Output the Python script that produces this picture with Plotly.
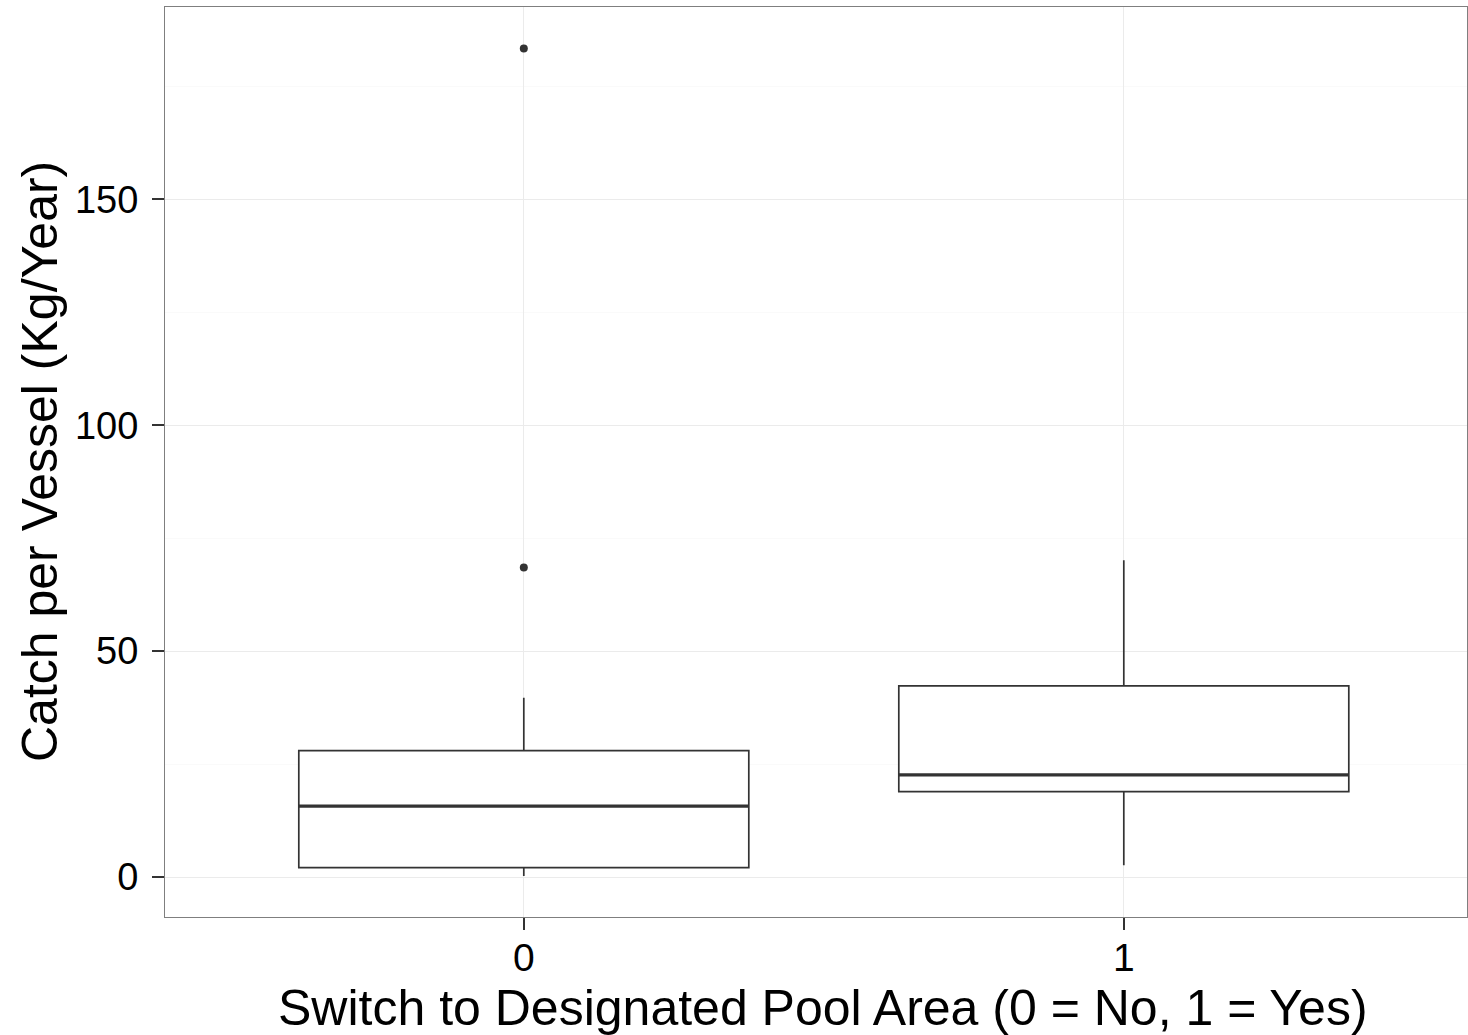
import plotly.graph_objects as go

# Data
categories = [0, 1]
tick_labels = ["0", "1"]
q1 = [2.1, 18.9]
median = [15.7, 22.6]
q3 = [28.0, 42.3]
lower_whisker = [0.2, 2.6]
upper_whisker = [39.7, 70.1]
outlier_x = [0, 0]
outlier_y = [68.5, 183.4]

box_width = 0.75
line_col = "#333333"
font_family = "Liberation Sans, Arial, sans-serif"

fig = go.Figure()
for i, c in enumerate(categories):
    fig.add_trace(go.Box(
        x=[c], q1=[q1[i]], median=[median[i]], q3=[q3[i]],
        lowerfence=[lower_whisker[i]], upperfence=[upper_whisker[i]],
        width=box_width, whiskerwidth=0,
        fillcolor="white", line=dict(color=line_col, width=1.7),
        boxpoints=False, showlegend=False,
    ))
    # thicker median line as in ggplot
    fig.add_trace(go.Scatter(
        x=[c - box_width / 2, c + box_width / 2], y=[median[i], median[i]],
        mode="lines", line=dict(color=line_col, width=3.2),
        showlegend=False, hoverinfo="skip",
    ))

fig.add_trace(go.Scatter(
    x=outlier_x, y=outlier_y, mode="markers",
    marker=dict(color=line_col, size=8),
    showlegend=False,
))

fig.update_layout(
    width=1468, height=1035,
    margin=dict(l=165, r=1, t=7, b=118),
    paper_bgcolor="white", plot_bgcolor="white",
    boxmode="overlay",
    font=dict(family=font_family, color="black"),
    xaxis=dict(
        range=[-0.598, 1.572], tickmode="array", tickvals=categories, ticktext=tick_labels,
        showgrid=True, gridcolor="#EBEBEB", gridwidth=1, zeroline=False,
        ticks="outside", ticklen=12, tickcolor="#333333", tickwidth=1.5,
        tickfont=dict(size=39, color="black", family=font_family),
        showline=True, linecolor="#7F7F7F", linewidth=1, mirror=True,
        ticklabelstandoff=-6,
    ),
    yaxis=dict(
        range=[-8.85, 192.6], tickmode="array", tickvals=[0, 50, 100, 150],
        ticktext=["0", "50", "100", "150"],
        showgrid=True, gridcolor="#EBEBEB", gridwidth=1, zeroline=False,
        minor=dict(tickvals=[25, 75, 125, 175], showgrid=True, gridcolor="#FAFAFA", gridwidth=1, ticks=""),
        ticks="outside", ticklen=12, tickcolor="#333333", tickwidth=1.5,
        tickfont=dict(size=38, color="black", family=font_family),
        showline=True, linecolor="#7F7F7F", linewidth=1, mirror=True,
        ticklabelstandoff=6,
    ),
    annotations=[
        dict(text="Switch to Designated Pool Area (0 = No, 1 = Yes)", xref="paper", yref="paper",
             x=0.505, y=-0.1005, xanchor="center", yanchor="middle", showarrow=False,
             font=dict(size=50, color="black", family=font_family)),
        dict(text="Catch per Vessel (Kg/Year)", xref="paper", yref="paper",
             x=-0.096, y=0.5, xanchor="center", yanchor="middle", textangle=-90, showarrow=False,
             font=dict(size=50, color="black", family=font_family)),
    ],
)

fig.write_html("out.html")
